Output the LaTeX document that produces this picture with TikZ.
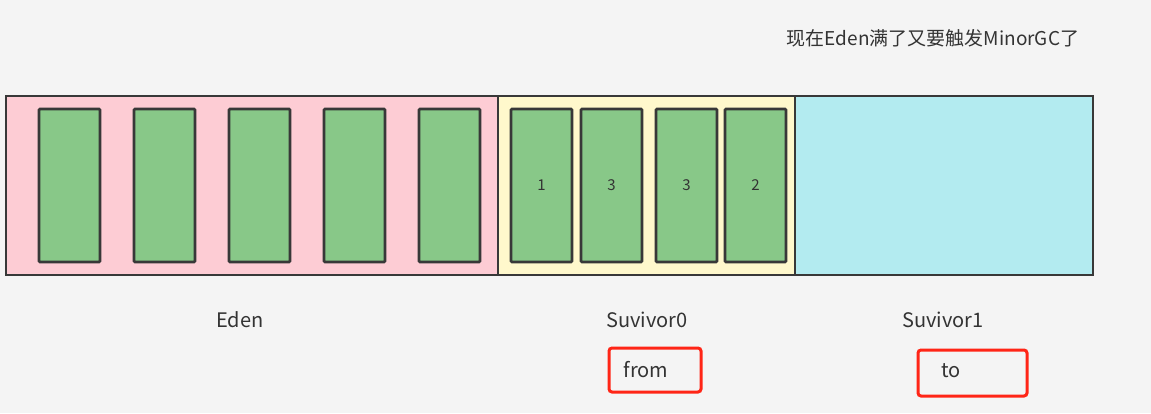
\documentclass[tikz,border=0pt]{standalone}
\usepackage{fontspec}
\setmainfont{Noto Sans CJK SC}
\definecolor{bg}{HTML}{F4F4F4}
\definecolor{edenc}{HTML}{FDCCD4}
\definecolor{s0c}{HTML}{FFF8CC}
\definecolor{s1c}{HTML}{B3EBF0}
\definecolor{objc}{HTML}{88C888}
\definecolor{edge}{HTML}{383838}
\definecolor{redc}{HTML}{FF2516}
\definecolor{txt}{HTML}{333333}
\begin{document}
\begin{tikzpicture}[x=1pt,y=-1pt,
  area/.style={draw=edge,line width=2.6pt},
  obj/.style={draw=edge,fill=objc,line width=2.6pt,rounded corners=1pt},
  lbl/.style={text=txt,font=\fontsize{20}{24}\selectfont,inner sep=0pt},
  num/.style={text=txt,font=\fontsize{15}{18}\selectfont,inner sep=0pt},
  tag/.style={draw=redc,line width=3pt,rounded corners=3pt}]
\fill[bg] (0,0) rectangle (1151,413);
\useasboundingbox (0,0) rectangle (1151,413);
\node[text=txt,font=\fontsize{19}{22}\selectfont,inner sep=0pt] (title) at (933,38) {现在Eden满了又要触发MinorGC了};
% areas
\draw[area,fill=edenc] (6,96) rectangle (498,275);
\draw[area,fill=s0c] (498,96) rectangle (795,275);
\draw[area,fill=s1c] (795,96) rectangle (1093,275);
% eden objects
\foreach \x [count=\i] in {39,134,229,324,419}{
  \draw[obj] (\x,109) rectangle ++(61,153) coordinate (e\i);
}
% survivor0 objects
\draw[obj] (511,109) rectangle (572,262) node[midway,num] (o1) {1};
\draw[obj] (581,109) rectangle (642,262) node[midway,num] (o2) {3};
\draw[obj] (656,109) rectangle (717,262) node[midway,num] (o3) {3};
\draw[obj] (725,109) rectangle (786,262) node[midway,num] (o4) {2};
% labels
\node[lbl] (edenl) at (240,320) {Eden};
\node[lbl] (s0l) at (647,320) {Suvivor0};
\node[lbl] (s1l) at (943,320) {Suvivor1};
\draw[tag] (609,348) rectangle (701,392);
\node[lbl] (from) at (646,370) {from};
\draw[tag] (918,350) rectangle (1027,396);
\node[lbl] (to) at (951,371) {to};
\end{tikzpicture}
\end{document}
